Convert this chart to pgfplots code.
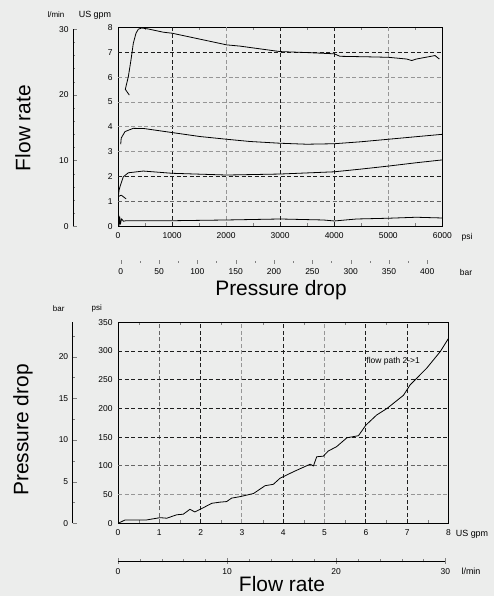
\documentclass[border=0pt]{standalone}
\usepackage{pgfplots}
\pgfplotsset{compat=1.18}
\usepackage{fontspec}
\setmainfont{Liberation Sans}

\definecolor{bg}{RGB}{236,237,236}
\definecolor{gdark}{RGB}{30,30,30}
\definecolor{glight}{RGB}{150,150,150}

\tikzset{
  gk/.style={gdark, line width=0.9bp, dash pattern=on 4bp off 2.5bp},
  gg/.style={glight, line width=0.9bp, dash pattern=on 4bp off 2.5bp},
  gm/.style={black!60, line width=0.9bp, dash pattern=on 4bp off 2.5bp},
  curve/.style={black, line width=0.8bp, line join=round},
}

\pgfplotsset{
  every axis/.append style={
    scale only axis,
    anchor=south west,
    tick label style={font=\fontsize{8.5}{9}\selectfont},
    /pgf/number format/1000 sep={},
    /pgf/number format/assume math mode=true,
    axis line style={line width=0.9bp},
  },
  mainax/.style={
    tick align=inside,
    ytick style={draw=none},
    major tick length=0bp,
    minor tick length=3bp,
    xticklabel style={yshift=-3bp},
    yticklabel style={xshift=-2bp},
  },
  scaley/.style={
    hide x axis, axis y line*=left,
    y axis line style={-},
    xmin=0, xmax=1, width=10bp,
    tick align=inside,
    major tick length=4bp, minor tick length=2bp,
    yticklabel style={xshift=-1bp},
  },
  scalex/.style={
    hide y axis, axis x line*=bottom,
    ymin=0, ymax=1, height=10bp,
    tick align=center,
  },
}

\begin{document}
\begin{tikzpicture}[x=1bp,y=1bp]
\fill[bg] (0,0) rectangle (494,596);
\path[use as bounding box] (0,0) rectangle (494,596);

% ---------------- top chart: flow rate vs pressure drop
\begin{axis}[mainax, at={(118bp,369.8bp)}, width=324.3bp, height=198.7bp,
  xmin=0, xmax=6000, ymin=0, ymax=8,
  xtick={0,1000,...,6000}, minor xtick={500,1500,...,5500},
  ytick={0,1,...,8}]
  \draw[gk] (axis cs:1000,0) -- (axis cs:1000,8);
  \draw[gg] (axis cs:2000,0) -- (axis cs:2000,8);
  \draw[gk] (axis cs:3000,0) -- (axis cs:3000,8);
  \draw[gk] (axis cs:4000,0) -- (axis cs:4000,8);
  \draw[gg] (axis cs:5000,0) -- (axis cs:5000,8);
  \draw[gm] (axis cs:0,1) -- (axis cs:6000,1);
  \draw[gk] (axis cs:0,2) -- (axis cs:6000,2);
  \draw[gg] (axis cs:0,3) -- (axis cs:6000,3);
  \draw[gg] (axis cs:0,4) -- (axis cs:6000,4);
  \draw[gg] (axis cs:0,5) -- (axis cs:6000,5);
  \draw[gg] (axis cs:0,6) -- (axis cs:6000,6);
  \draw[gk] (axis cs:0,7) -- (axis cs:6000,7);

  \addplot[curve] coordinates {
    (209,5.28) (135,5.51) (191,6.02) (240,6.69) (283,7.36) (333,7.77)
    (376,7.93) (438,7.98) (561,7.94) (838,7.81) (1000,7.77) (1517,7.53)
    (2011,7.30) (2257,7.25) (2997,7.03) (3500,6.99) (4002,6.94) (4107,6.84)
    (4600,6.82) (5001,6.80) (5341,6.73) (5433,6.67) (5520,6.73) (5865,6.87)
    (5945,6.73)
  };
  \addplot[curve] coordinates {
    (50,3.30) (60,3.55) (130,3.81) (283,3.94) (487,3.93) (1000,3.77)
    (1517,3.61) (2011,3.50) (2442,3.41) (2997,3.34) (3491,3.30) (4002,3.32)
    (4500,3.40) (5001,3.50) (5500,3.60) (6005,3.70)
  };
  \addplot[curve] coordinates {
    (150,1.10) (60,1.25) (6,1.19) (20,1.45) (37,1.59) (98,1.99) (191,2.15)
    (468,2.22) (1000,2.13) (2011,2.06) (2997,2.10) (4002,2.19)
    (4500,2.30) (5001,2.42) (5500,2.55) (6005,2.67)
  };
  \addplot[curve] coordinates {
    (0,0.02) (12,0.45) (22,0.04) (32,0.38) (45,0.08) (65,0.30) (100,0.20)
    (150,0.22) (1000,0.22) (2011,0.25) (3000,0.29) (3800,0.25) (4002,0.21)
    (4416,0.29) (5001,0.32) (5520,0.36) (6000,0.33)
  };
\end{axis}

% left l/min scale of the top chart
\begin{axis}[scaley, at={(73bp,369.8bp)}, height=197bp,
  ymin=0, ymax=30, ytick={0,10,20,30}, minor ytick={2,4,...,28}]
\end{axis}

% bar scale below the top chart
\begin{axis}[scalex, at={(120.7bp,334bp)}, width=306.6bp,
  x axis line style={draw=none},
  xmin=0, xmax=400, xtick={0,50,...,400}, minor xtick={25,75,...,375},
  major tick length=4bp, minor tick length=1.5bp,
  xticklabel style={yshift=-1bp}]
\end{axis}

\node[font=\fontsize{8}{9}\selectfont] at (56,581) {l/min};
\node[font=\fontsize{9}{10}\selectfont] at (95,581) {US gpm};
\node[font=\fontsize{8.5}{9}\selectfont] at (467,358.7) {psi};
\node[font=\fontsize{8.5}{9}\selectfont] at (466,323.3) {bar};
\node[font=\fontsize{21}{24}\selectfont, rotate=90] at (23,468) {Flow rate};
\node[font=\fontsize{21}{24}\selectfont, anchor=base, inner sep=0pt] at (281,300) {Pressure drop};

% ---------------- bottom chart: pressure drop vs flow rate
\begin{axis}[mainax, at={(118bp,72.6bp)}, width=330.5bp, height=201.1bp,
  xmin=0, xmax=8, ymin=0, ymax=350,
  xtick={0,1,...,8}, minor xtick={0.5,1.5,...,7.5},
  ytick={0,50,...,350}]
  \draw[gm] (axis cs:1,0) -- (axis cs:1,350);
  \draw[gk] (axis cs:2,0) -- (axis cs:2,350);
  \draw[gg] (axis cs:3,0) -- (axis cs:3,350);
  \draw[gk] (axis cs:4,0) -- (axis cs:4,350);
  \draw[gg] (axis cs:5,0) -- (axis cs:5,350);
  \draw[gk] (axis cs:6,0) -- (axis cs:6,350);
  \draw[gk] (axis cs:7,0) -- (axis cs:7,350);
  \draw[gg] (axis cs:0,50) -- (axis cs:8,50);
  \draw[gm] (axis cs:0,100) -- (axis cs:8,100);
  \draw[gk] (axis cs:0,150) -- (axis cs:8,150);
  \draw[gk] (axis cs:0,200) -- (axis cs:8,200);
  \draw[gk] (axis cs:0,250) -- (axis cs:8,250);
  \draw[gk] (axis cs:0,300) -- (axis cs:8,300);

  \addplot[curve] coordinates {
    (0,0) (0.17,6) (0.37,6) (0.69,6) (1.02,10) (1.18,9) (1.42,15) (1.58,16)
    (1.74,24.5) (1.86,20) (2.03,26) (2.27,35) (2.47,37) (2.63,38) (2.75,44)
    (2.95,46.5) (3.28,52) (3.56,65.6) (3.76,68) (3.92,78.5) (4.25,90)
    (4.57,100.4) (4.65,103) (4.73,100) (4.81,116) (4.97,117) (5.09,126)
    (5.29,133.5) (5.54,149) (5.82,152.6) (6.00,171) (6.26,188.6) (6.51,200)
    (6.91,223) (7.07,241) (7.47,270) (7.80,299) (8.0,322)
  };
  \node[font=\fontsize{8.5}{9}\selectfont] at (axis cs:6.66,282.6) {flow path 2->1};
\end{axis}

% left bar scale of the bottom chart
\begin{axis}[scaley, at={(72.7bp,72.6bp)}, height=201.1bp,
  ymin=0, ymax=24.13, ytick={0,5,...,20}, minor ytick={2.5,7.5,...,22.5}]
\end{axis}

% l/min scale below the bottom chart
\begin{axis}[scalex, at={(118bp,35bp)}, width=327.3bp,
  x axis line style={-, line width=0.8bp},
  xmin=0, xmax=30, xtick={0,10,20,30}, minor xtick={2,4,...,28},
  major tick length=6bp, minor tick length=3bp,
  xticklabel style={yshift=-1bp}]
\end{axis}

\node[font=\fontsize{8}{9}\selectfont] at (58.7,287.7) {bar};
\node[font=\fontsize{8}{9}\selectfont] at (96.7,287.7) {psi};
\node[font=\fontsize{9}{10}\selectfont] at (472,61.7) {US gpm};
\node[font=\fontsize{9}{10}\selectfont] at (471,24.3) {l/min};
\node[font=\fontsize{21}{24}\selectfont, rotate=90] at (23,166) {Pressure drop};
\node[font=\fontsize{21}{24}\selectfont, anchor=base, inner sep=0pt] at (282,4) {Flow rate};
\end{tikzpicture}
\end{document}
